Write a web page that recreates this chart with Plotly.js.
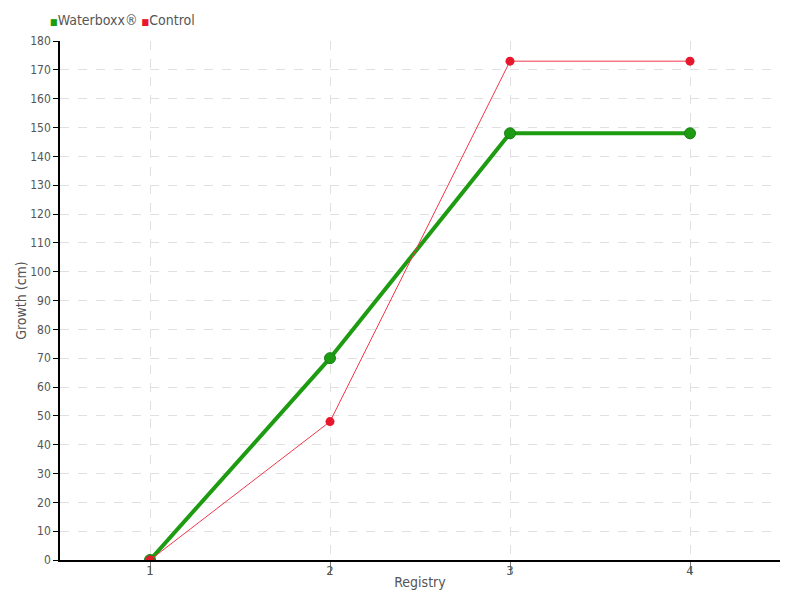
<!DOCTYPE html>
<html><head><meta charset="utf-8">
<script src="https://cdn.plot.ly/plotly-3.0.1.min.js"></script>
<style>body{margin:0}#c{width:800px;height:600px}</style>
</head><body><div id="c"></div>
<script>
const registry = [1, 2, 3, 4];
const waterboxx = [0, 70, 148, 148];
const control = [0, 48, 173, 173];
const seriesNames = ['Waterboxx®', 'Control'];
const yTicks = [0,10,20,30,40,50,60,70,80,90,100,110,120,130,140,150,160,170,180];
const font = "'DejaVu Sans Condensed', 'Liberation Sans Narrow', sans-serif";
const green = '#1d9c12', red = '#e8182c';
const data = [
  {x: registry, y: waterboxx, name: seriesNames[0], mode: 'lines+markers', type: 'scatter',
   line: {color: green, width: 4}, marker: {color: green, size: 11, line: {color: '#17801a', width: 1}}},
  {x: registry, y: control, name: seriesNames[1], mode: 'lines+markers', type: 'scatter',
   line: {color: '#f0384a', width: 1}, marker: {color: red, size: 9}}
];
const legendText = `<span style="color:${green};font-size:9px">■</span>${seriesNames[0]} ` +
                   `<span style="color:${red};font-size:9px">■</span>${seriesNames[1]}`;
const layout = {
  width: 800, height: 600,
  margin: {l: 60, r: 20, t: 41, b: 40, autoexpand: false},
  paper_bgcolor: '#fff', plot_bgcolor: '#fff',
  font: {family: font, color: '#555', size: 13},
  showlegend: false,
  annotations: [{xref: 'paper', yref: 'paper', x: -0.016, y: 1.04, xanchor: 'left', yanchor: 'middle',
    text: legendText, showarrow: false, font: {size: 14, color: '#555'}}],
  xaxis: {range: [0.5, 4.5], tickvals: registry, ticktext: registry.map(String),
    showgrid: true, gridcolor: '#e0e0e0', griddash: 'dash', zeroline: false,
    showline: true, linecolor: '#000', linewidth: 1.5, ticks: 'outside', ticklen: 12, tickcolor: '#777',
    ticklabelstandoff: -14, automargin: false,
    title: {text: 'Registry', standoff: 0, font: {size: 14, color: '#555'}}},
  yaxis: {range: [0, 180], tickvals: yTicks, showgrid: true, gridcolor: '#e0e0e0', griddash: 'dash', zeroline: false,
    showline: true, linecolor: '#000', linewidth: 1.5, ticks: 'outside', ticklen: 5, tickcolor: '#000', automargin: false,
    tickfont: {size: 12, color: '#555'},
    title: {text: 'Growth (cm)', standoff: 0, font: {size: 14, color: '#555'}}}
};
Plotly.newPlot('c', data, layout, {displayModeBar: false});
</script></body></html>
